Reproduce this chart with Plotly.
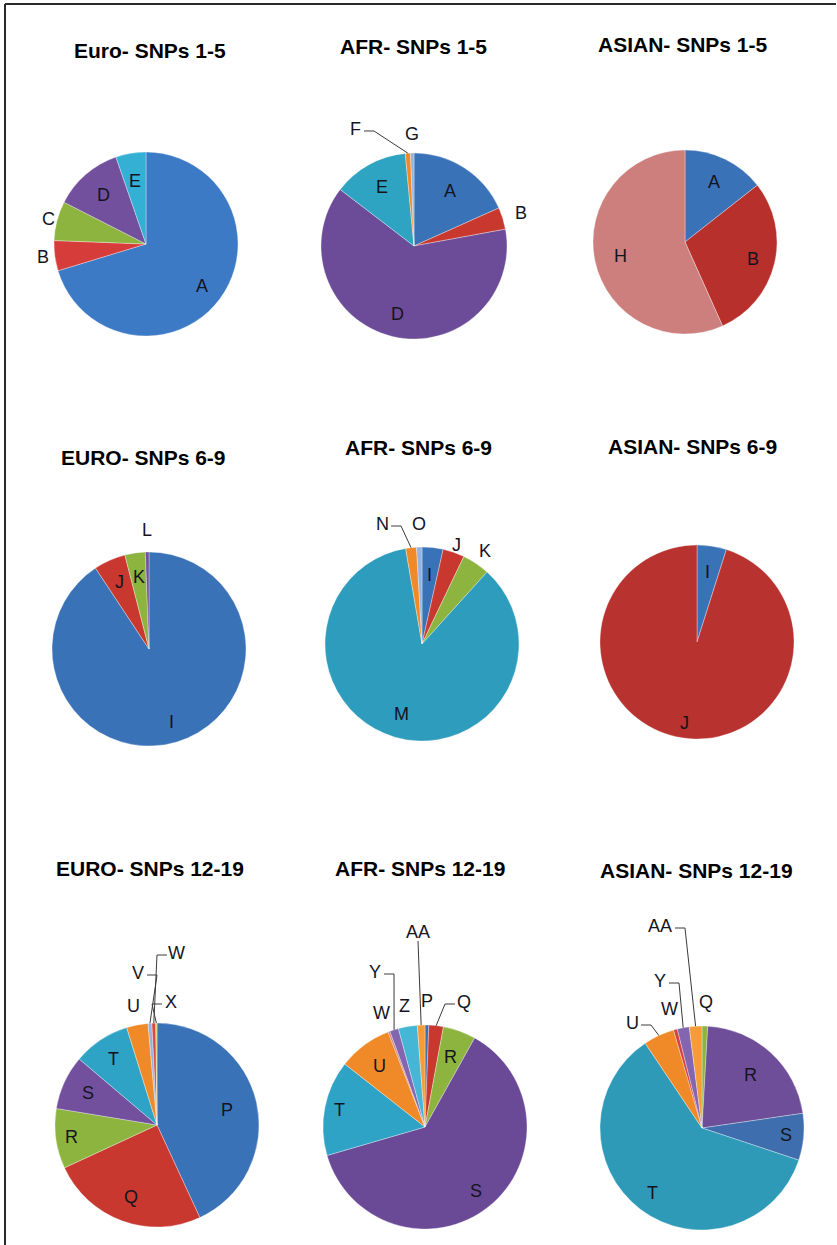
import math
import plotly.graph_objects as go

W, H = 837, 1245

# ---------------- data (percent shares of each haplotype) ----------------
euro_1_5_labels = ["A", "B", "C", "D", "E"]
euro_1_5_values = [70.3, 5.3, 6.9, 12.2, 5.3]

afr_1_5_labels = ["A", "B", "D", "E", "F", "G"]
afr_1_5_values = [18.3, 3.8, 63.3, 13.1, 0.9, 0.6]

asian_1_5_labels = ["A", "B", "H"]
asian_1_5_values = [14.4, 28.9, 56.7]

euro_6_9_labels = ["I", "J", "K", "L"]
euro_6_9_values = [90.7, 5.3, 3.4, 0.6]

afr_6_9_labels = ["I", "J", "K", "M", "N", "O"]
afr_6_9_values = [3.5, 3.6, 4.6, 85.6, 1.8, 0.9]

asian_6_9_labels = ["I", "J"]
asian_6_9_values = [4.9, 95.1]

euro_12_19_labels = ["P", "Q", "R", "S", "T", "U", "V", "W", "X"]
euro_12_19_values = [43.1, 25.0, 9.5, 8.6, 9.0, 3.4, 0.6, 0.6, 0.2]

afr_12_19_labels = ["P", "Q", "R", "S", "T", "U", "W", "Y", "Z", "AA"]
afr_12_19_values = [0.6, 2.3, 5.2, 62.4, 15.1, 8.5, 0.3, 1.4, 3.0, 1.2]

asian_12_19_labels = ["Q", "R", "S", "T", "U", "W", "Y", "AA"]
asian_12_19_values = [0.9, 21.8, 7.4, 60.5, 4.9, 0.6, 1.9, 2.0]

# ---------------- palette ----------------
BLUE = "#3d7ac6"
RED = "#c9382f"
GREEN = "#8db43f"
PURPLE = "#72509e"
AQUA = "#2fa3c6"
ORANGE = "#f08a28"
LBLUE = "#93b4e0"
PINK = "#cd7f7e"
LGREEN = "#c8d160"
LPURPLE = "#8466b0"
LAQUA = "#46b6d6"
LORANGE = "#f59c38"

charts = [
    dict(title="Euro- SNPs 1-5", tpos=(72, 50), geom=(146, 244, 92),
         labels=euro_1_5_labels, values=euro_1_5_values,
         colors=[BLUE, "#d63d3a", GREEN, PURPLE, "#33b0d4"],
         place={"A": ("in", 0.76), "B": ("out", 1.13), "C": ("out", 1.09),
                "D": ("in", 0.70), "E": ("in", 0.69)}),
    dict(title="AFR- SNPs 1-5", tpos=(338, 47), geom=(414, 246, 93),
         labels=afr_1_5_labels, values=afr_1_5_values,
         colors=["#3a72b8", RED, "#6c4c98", "#2ea4c2", ORANGE, LBLUE],
         place={"A": ("in", 0.71), "B": ("out", 1.21), "D": ("in", 0.75),
                "E": ("in", 0.72), "F": ("lead", -59, -117), "G": ("out", 1.2)}),
    dict(title="ASIAN- SNPs 1-5", tpos=(596, 44), geom=(685, 242, 92),
         labels=asian_1_5_labels, values=asian_1_5_values,
         colors=["#3a72b8", "#b8302c", PINK],
         place={"A": ("in", 0.72), "B": ("in", 0.76), "H": ("in", 0.72)}),
    dict(title="EURO- SNPs 6-9", tpos=(59, 457), geom=(149, 649, 97),
         labels=euro_6_9_labels, values=euro_6_9_values,
         colors=["#3a72b8", RED, GREEN, PURPLE],
         place={"I": ("in", 0.79), "J": ("in", 0.76), "K": ("in", 0.75),
                "L": ("out", 1.23)}),
    dict(title="AFR- SNPs 6-9", tpos=(343, 447), geom=(422, 644, 97),
         labels=afr_6_9_labels, values=afr_6_9_values,
         colors=["#3a72b8", RED, GREEN, "#2e9cbd", ORANGE, LBLUE],
         place={"I": ("in", 0.72), "J": ("out", 1.08), "K": ("out", 1.16),
                "M": ("in", 0.75), "N": ("lead", -40, -120), "O": ("out", 1.24)}),
    dict(title="ASIAN- SNPs 6-9", tpos=(606, 446), geom=(697, 642, 97),
         labels=asian_6_9_labels, values=asian_6_9_values,
         colors=["#3a72b8", "#b8322f"],
         place={"I": ("in", 0.73), "J": ("in", 0.84)}),
    dict(title="EURO- SNPs 12-19", tpos=(54, 868), geom=(157, 1125, 102),
         labels=euro_12_19_labels, values=euro_12_19_values,
         colors=["#3a72b8", RED, GREEN, PURPLE, AQUA, ORANGE, LBLUE, "#d84a44", LGREEN],
         place={"P": ("in", 0.70), "Q": ("in", 0.75), "R": ("in", 0.85),
                "S": ("in", 0.745), "T": ("in", 0.77), "U": ("out", 1.19),
                "V": ("lead", -19, -152), "W": ("lead", 19, -172),
                "X": ("lead", 14, -123)}),
    dict(title="AFR- SNPs 12-19", tpos=(333, 868), geom=(425, 1127, 102),
         labels=afr_12_19_labels, values=afr_12_19_values,
         colors=["#3a72b8", RED, GREEN, "#6a4a96", AQUA, ORANGE, PINK, LPURPLE, LAQUA, LORANGE],
         place={"P": ("out", 1.24), "Q": ("lead", 39, -125), "R": ("in", 0.73),
                "S": ("in", 0.80), "T": ("in", 0.85), "U": ("in", 0.75),
                "W": ("out", 1.2), "Y": ("lead", -50, -155), "Z": ("out", 1.2),
                "AA": ("lead", -7, -195)}),
    dict(title="ASIAN- SNPs 12-19", tpos=(598, 870), geom=(702, 1128, 102),
         labels=asian_12_19_labels, values=asian_12_19_values,
         colors=[GREEN, "#6e4e98", "#3e6eae", "#2e9ab8", ORANGE, "#d24240", LPURPLE, LORANGE],
         place={"Q": ("out", 1.24), "R": ("in", 0.71), "S": ("in", 0.83),
                "T": ("in", 0.80), "U": ("lead", -70, -105), "W": ("out", 1.21),
                "Y": ("lead", -42, -147), "AA": ("lead", -42, -202)}),
]

LABEL_FONT = dict(family="Liberation Sans, Arial, sans-serif", size=18, color="#14141e")
TITLE_FONT = dict(family="Liberation Sans Narrow, Liberation Sans, Arial, sans-serif",
                  size=21, color="#000000", weight="bold")


def px(x):
    return x / W


def py(y):
    return 1 - y / H


fig = go.Figure()
annotations = []
shapes = []

for ch in charts:
    cx, cy, r = ch["geom"]
    fig.add_trace(go.Pie(
        labels=ch["labels"], values=ch["values"],
        marker=dict(colors=ch["colors"], line=dict(color="rgba(255,255,255,0.55)", width=0.6)),
        sort=False, direction="clockwise", rotation=0,
        textinfo="none", hoverinfo="label+percent", showlegend=False,
        domain=dict(x=[px(cx - r), px(cx + r)], y=[py(cy + r), py(cy - r)]),
    ))

    total = float(sum(ch["values"]))
    cum = 0.0
    for lab, val in zip(ch["labels"], ch["values"]):
        mid = math.radians((cum + val / 2) / total * 360)
        cum += val
        sx, sy = math.sin(mid), -math.cos(mid)
        mode = ch["place"].get(lab, ("in", 0.72))
        if mode[0] in ("in", "out"):
            rho = mode[1] * r
            lx, ly = cx + rho * sx, cy + rho * sy
        else:
            lx, ly = cx + mode[1], cy + mode[2]
            tx, ty = cx + r * sx, cy + r * sy
            if abs(tx - lx) < 6:
                path = f"M {px(lx)},{py(ly + 9)} L {px(tx)},{py(ty)}"
            else:
                side = 1 if tx > lx else -1
                hw = 3 + 6 * len(lab)
                s0 = (lx + side * hw, ly + 2)
                e0 = (s0[0] + side * 10, s0[1])
                path = (f"M {px(s0[0])},{py(s0[1])} L {px(e0[0])},{py(e0[1])} "
                        f"L {px(tx)},{py(ty)}")
            shapes.append(dict(type="path", path=path, xref="paper", yref="paper",
                               line=dict(color="#3a3a3a", width=1)))
        annotations.append(dict(text=lab, x=px(lx), y=py(ly), xref="paper", yref="paper",
                                xanchor="center", yanchor="middle", showarrow=False,
                                font=LABEL_FONT))

    tx0, ty0 = ch["tpos"]
    annotations.append(dict(text=ch["title"], x=px(tx0), y=py(ty0), xref="paper", yref="paper",
                            xanchor="left", yanchor="middle", showarrow=False,
                            font=TITLE_FONT))

# outer frame (left and top edges)
shapes.append(dict(type="line", xref="paper", yref="paper",
                   x0=px(5), y0=py(4), x1=px(836), y1=py(4),
                   line=dict(color="#2a2a2a", width=2)))
shapes.append(dict(type="line", xref="paper", yref="paper",
                   x0=px(5), y0=py(4), x1=px(5), y1=py(1245),
                   line=dict(color="#2a2a2a", width=2)))

fig.update_layout(
    width=W, height=H,
    margin=dict(l=0, r=0, t=0, b=0),
    paper_bgcolor="white", plot_bgcolor="white",
    showlegend=False,
    annotations=annotations, shapes=shapes,
)

fig.write_html("out.html")
